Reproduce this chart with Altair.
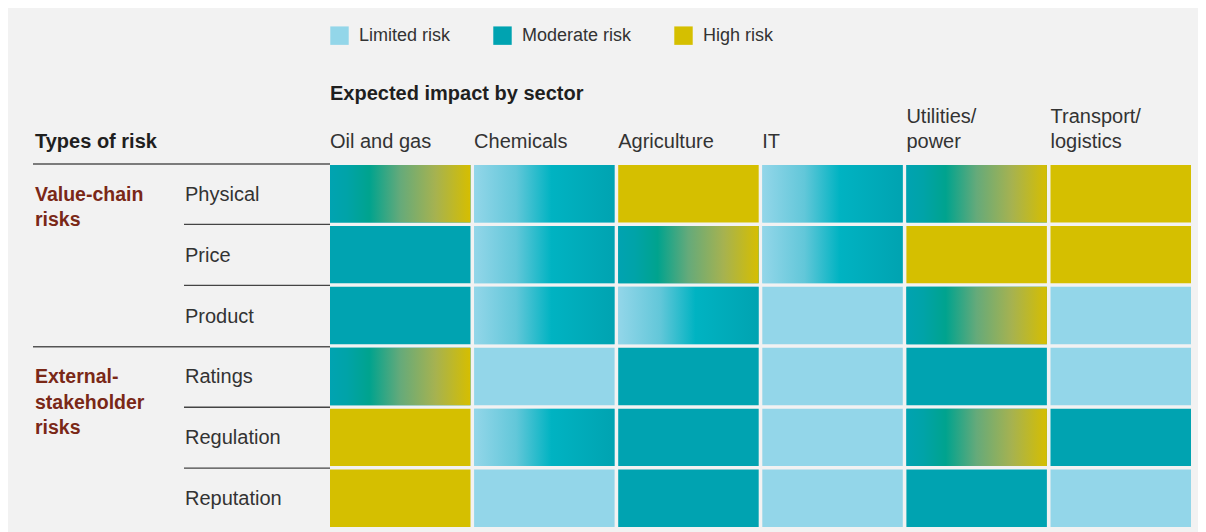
import altair as alt
import pandas as pd

# ---- data ----
sectors = ["Oil and gas", "Chemicals", "Agriculture", "IT", "Utilities/power", "Transport/logistics"]
header_line1 = ["", "", "", "", "Utilities/", "Transport/"]
header_line2 = ["Oil and gas", "Chemicals", "Agriculture", "IT", "power", "logistics"]
rows = ["Physical", "Price", "Product", "Ratings", "Regulation", "Reputation"]
group_labels = ["Value-chain\nrisks", "", "", "External-\nstakeholder\nrisks", "", ""]
group_start = [True, False, False, True, False, False]

# L = limited, M = moderate, H = high, LM = limited-to-moderate, MH = moderate-to-high
oil_gas = ["MH", "M", "M", "MH", "H", "H"]
chemicals = ["LM", "LM", "LM", "L", "LM", "L"]
agriculture = ["H", "MH", "LM", "M", "M", "M"]
it = ["LM", "LM", "L", "L", "L", "L"]
utilities = ["MH", "H", "MH", "M", "MH", "M"]
transport = ["H", "H", "L", "L", "M", "L"]

levels = ["Limited risk", "Moderate risk", "High risk"]
level_colors = ["#93d6e9", "#00a3b1", "#d5bf00"]
base_of = {"L": "Limited risk", "LM": "Limited risk", "M": "Moderate risk",
           "MH": "Moderate risk", "H": "High risk"}

records = []
for sec, vals in zip(sectors, [oil_gas, chemicals, agriculture, it, utilities, transport]):
    for r, v in zip(rows, vals):
        records.append({"sector": sec, "row": r, "code": v, "level": base_of[v]})
cells = pd.DataFrame(records)

row_df = pd.DataFrame({"row": rows, "group": group_labels, "start": group_start})
head_df = pd.DataFrame({"sector": sectors, "l1": header_line1, "l2": header_line2})

FONT = "Liberation Sans"
TXT = "#333333"
MAROON = "#7a2817"

xs = alt.Scale(domain=sectors, range=[322, 1183], paddingInner=0.025, paddingOuter=0)
ys = alt.Scale(domain=rows, range=[157, 519], paddingInner=0.058, paddingOuter=0)

X = alt.X("sector:N", scale=xs, axis=None, sort=sectors)
Y = alt.Y("row:N", scale=ys, axis=None, sort=rows)

base = alt.Chart(cells).mark_rect().encode(
    x=X, y=Y,
    color=alt.Color("level:N", scale=alt.Scale(domain=levels, range=level_colors),
                    legend=alt.Legend(title=None, orient="none", legendX=322, legendY=18,
                                      direction="horizontal", symbolType="square",
                                      symbolSize=340, symbolStrokeWidth=0,
                                      labelFontSize=18, labelFont=FONT, labelColor=TXT,
                                      labelOffset=10, columnPadding=42, padding=0)),
)

grad_mh = alt.LinearGradient(
    gradient="linear", x1=0, x2=1, y1=0, y2=0,
    stops=[alt.GradientStop(offset=0, color="#00a3b1"),
           alt.GradientStop(offset=0.12, color="#00a3a8"),
           alt.GradientStop(offset=0.28, color="#00a38e"),
           alt.GradientStop(offset=0.5, color="#65aa7a"),
           alt.GradientStop(offset=0.75, color="#a6b250"),
           alt.GradientStop(offset=1, color="#d6be00")])
grad_lm = alt.LinearGradient(
    gradient="linear", x1=0, x2=1, y1=0, y2=0,
    stops=[alt.GradientStop(offset=0, color="#93d6e9"),
           alt.GradientStop(offset=0.3, color="#62c7d9"),
           alt.GradientStop(offset=0.55, color="#00b3c2"),
           alt.GradientStop(offset=1, color="#00a3b1")])

mh = alt.Chart(cells).transform_filter(alt.datum.code == "MH").mark_rect(color=grad_mh).encode(x=X, y=Y)
lm = alt.Chart(cells).transform_filter(alt.datum.code == "LM").mark_rect(color=grad_lm).encode(x=X, y=Y)

Yr = alt.Y("row:N", scale=ys, axis=None, sort=rows, bandPosition=0)
rule_group = alt.Chart(row_df).transform_filter(alt.datum.start).mark_rule(
    color="#555555", strokeWidth=1.4, yOffset=-1).encode(
    y=Yr, x=alt.value(25), x2=alt.value(322))
rule_inner = alt.Chart(row_df).transform_filter(~alt.datum.start).mark_rule(
    color="#444444", strokeWidth=1.4, yOffset=-1.5).encode(
    y=Yr, x=alt.value(176), x2=alt.value(322))

Ym = alt.Y("row:N", scale=ys, axis=None, sort=rows, bandPosition=0.5)
row_text = alt.Chart(row_df).mark_text(
    align="left", baseline="alphabetic", dy=7, font=FONT, fontSize=20, color=TXT).encode(
    y=Ym, x=alt.value(177), text="row:N")
group_text = alt.Chart(row_df).transform_filter(alt.datum.start).mark_text(
    align="left", baseline="alphabetic", dy=7, font=FONT, fontSize=19.5, fontWeight="bold",
    color=MAROON, lineBreak="\n", lineHeight=25.5).encode(
    y=Ym, x=alt.value(27), text="group:N")

Xh = alt.X("sector:N", scale=xs, axis=None, sort=sectors, bandPosition=0)
head1 = alt.Chart(head_df).mark_text(
    align="left", baseline="alphabetic", font=FONT, fontSize=20, color=TXT).encode(
    x=Xh, y=alt.value(114.5), text="l1:N")
head2 = alt.Chart(head_df).mark_text(
    align="left", baseline="alphabetic", font=FONT, fontSize=20, color=TXT).encode(
    x=Xh, y=alt.value(140), text="l2:N")

title = alt.Chart(pd.DataFrame({"t": ["Expected impact by sector"]})).mark_text(
    align="left", baseline="alphabetic", font=FONT, fontSize=20, fontWeight="bold",
    color="#1f1f1f").encode(x=alt.value(322), y=alt.value(92), text="t:N")
types = alt.Chart(pd.DataFrame({"t": ["Types of risk"]})).mark_text(
    align="left", baseline="alphabetic", font=FONT, fontSize=20, fontWeight="bold",
    color="#1f1f1f").encode(x=alt.value(27), y=alt.value(139.5), text="t:N")

chart = alt.layer(base, mh, lm, rule_group, rule_inner, row_text, group_text,
                  head1, head2, title, types).properties(
    width=1190, height=524, background="#f2f2f2", padding=0,
    autosize=alt.AutoSizeParams(type="none"),
).configure_view(stroke=None)

chart.save("out.html", embed_options={"renderer": "svg", "actions": False})
